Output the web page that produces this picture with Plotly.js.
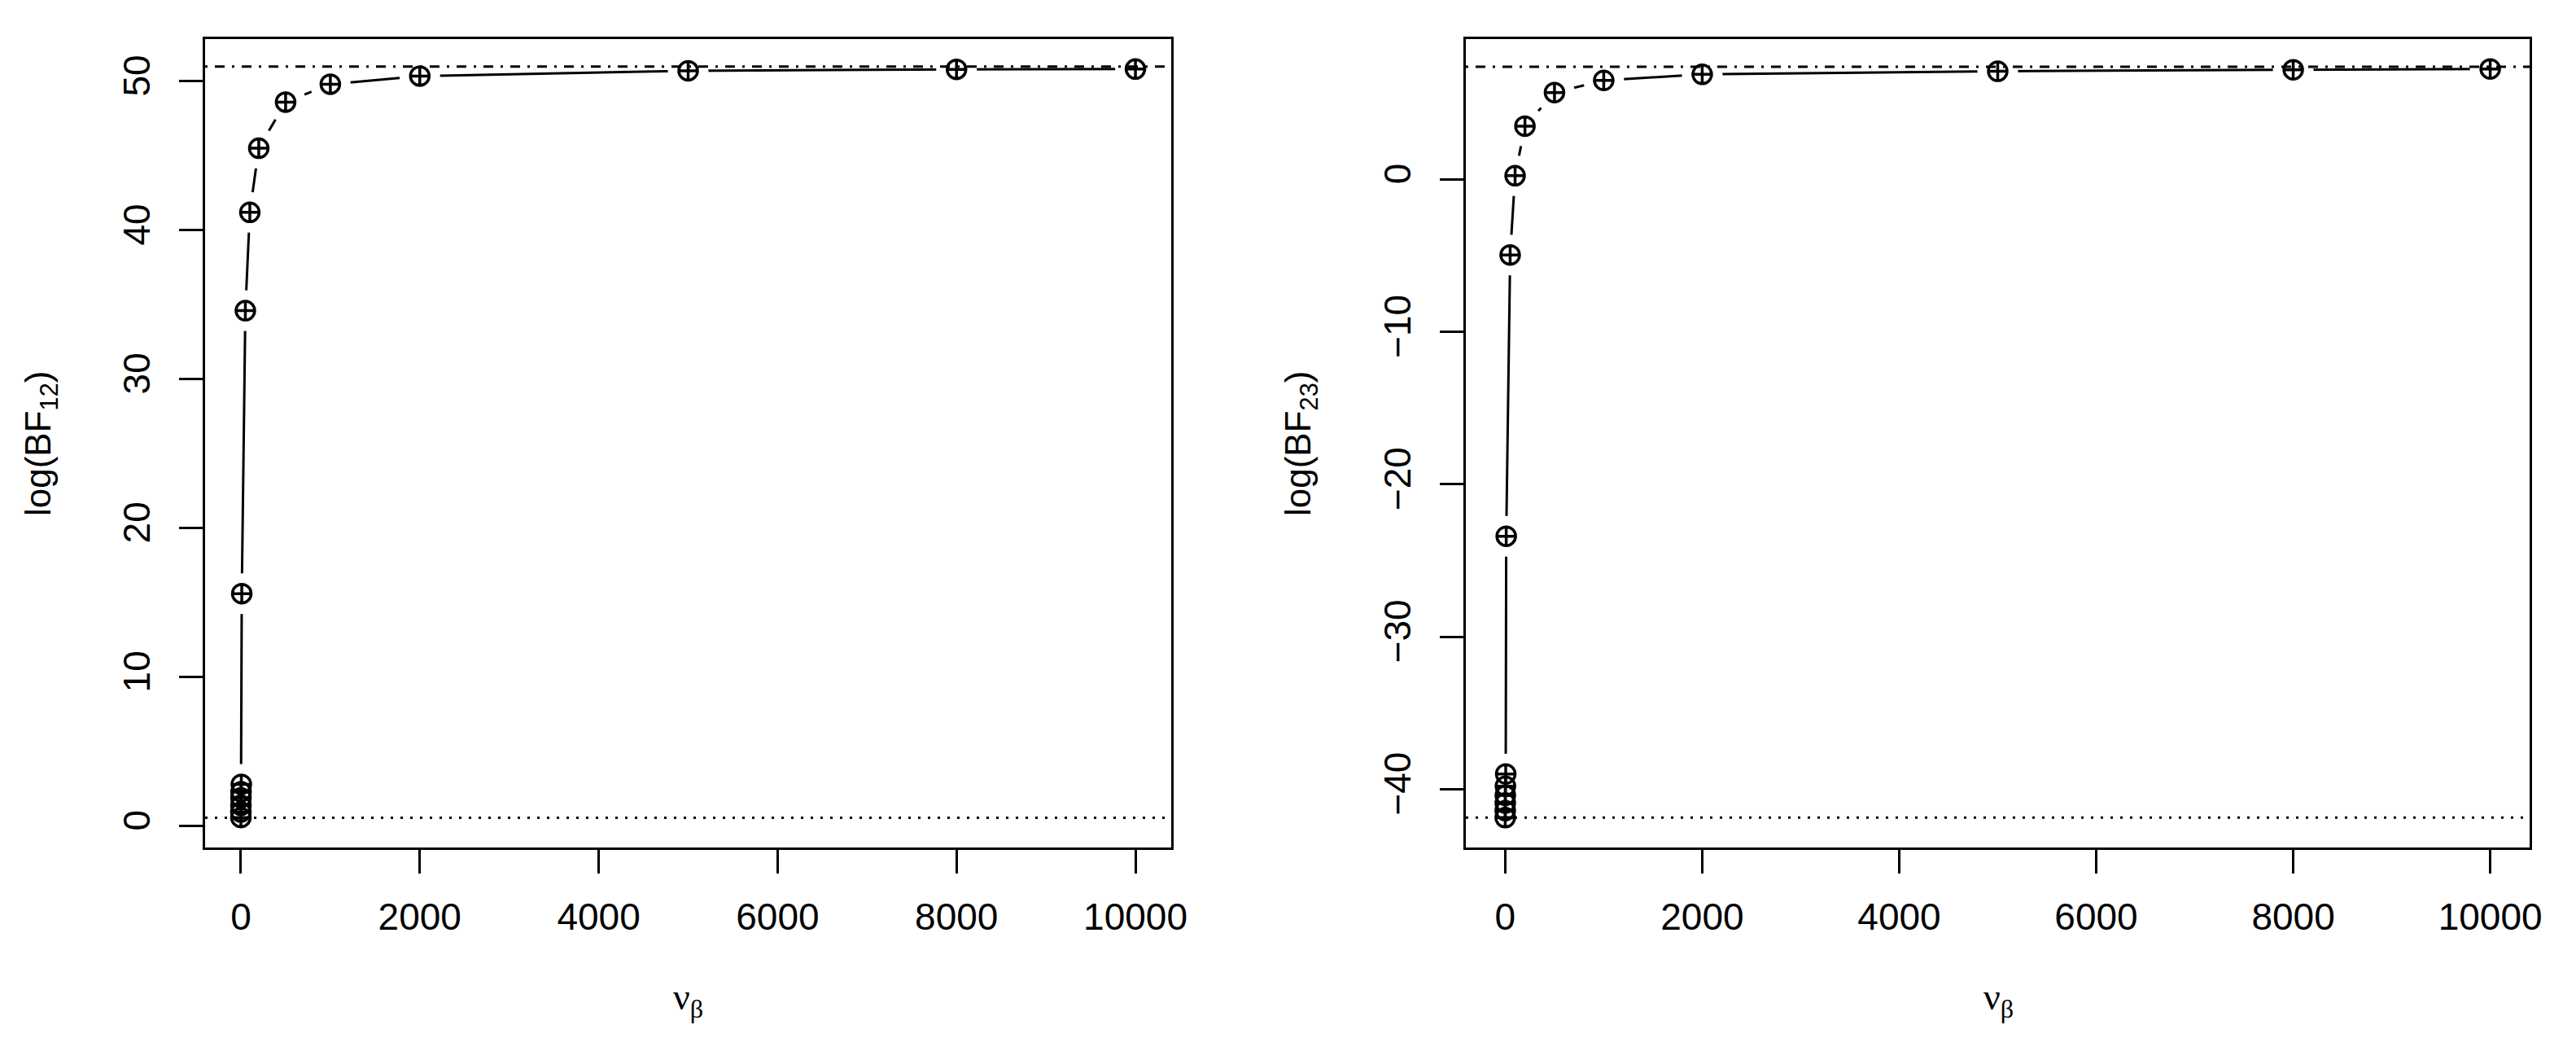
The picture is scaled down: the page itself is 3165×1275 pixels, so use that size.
<!DOCTYPE html>
<html>
<head>
<meta charset="utf-8">
<script src="https://cdn.plot.ly/plotly-3.0.1.min.js"></script>
<style>
html,body{margin:0;padding:0;background:#fff;}
#chart{width:3165px;height:1275px;}
</style>
</head>
<body>
<div id="chart"></div>
<script>
// ---- data ----
const nuBeta = [0.01, 0.1, 0.5, 1, 2, 5, 10, 50, 100, 200, 500, 1000, 2000, 5000, 8000, 10000];
const logBF12 = [0.57, 0.95, 1.4, 1.9, 2.3, 2.8, 15.6, 34.6, 41.2, 45.5, 48.6, 49.8, 50.35, 50.7, 50.8, 50.82];
const logBF23 = [-41.86, -41.4, -40.9, -40.4, -39.8, -39.0, -23.4, -4.95, 0.25, 3.5, 5.7, 6.5, 6.9, 7.1, 7.2, 7.25];

const upperRef12 = 50.98;   // dash-dot reference line, left panel
const lowerRef12 = 0.56;    // dotted reference line, left panel
const upperRef23 = 7.39;    // dash-dot reference line, right panel
const lowerRef23 = -41.86;  // dotted reference line, right panel

const xTickVals = [0, 2000, 4000, 6000, 8000, 10000];
const xTickText = ["0", "2000", "4000", "6000", "8000", "10000"];
const y1TickVals = [0, 10, 20, 30, 40, 50];
const y1TickText = ["0", "10", "20", "30", "40", "50"];
const y2TickVals = [-40, -30, -20, -10, 0];
const y2TickText = ["\u221240", "\u221230", "\u221220", "\u221210", "0"];

// ---- styling ----
const W = 3165, H = 1275;
const tickFont = {family: "Liberation Sans, Arial, sans-serif", size: 46, color: "#000"};
const yDom = [(H - 1041) / H, (H - 48) / H];

function traces(xa, ya, yv) {
  return [
    {x: nuBeta, y: yv, xaxis: xa, yaxis: ya, type: "scatter", mode: "lines",
     line: {color: "#000", width: 3}, hoverinfo: "skip", showlegend: false},
    {x: nuBeta, y: yv, xaxis: xa, yaxis: ya, type: "scatter", mode: "markers",
     marker: {symbol: "circle", size: 50, color: "#fff", line: {width: 0}},
     hoverinfo: "skip", showlegend: false},
    {x: nuBeta, y: yv, xaxis: xa, yaxis: ya, type: "scatter", mode: "markers",
     marker: {symbol: "circle-cross-open", size: 23, color: "#000", line: {color: "#000", width: 3.5}},
     showlegend: false}
  ];
}

function xAxis(dom, anchor) {
  return {domain: dom, anchor: anchor, range: [-400, 10400], tickmode: "array",
    tickvals: xTickVals, ticktext: xTickText, ticks: "outside", ticklen: 29, tickwidth: 3,
    tickcolor: "#000", showline: true, linewidth: 3, linecolor: "#000", mirror: true,
    showgrid: false, zeroline: false, tickfont: tickFont, ticklabelstandoff: 14};
}
function yAxis(range, tv, tt, anchor) {
  return {domain: yDom, anchor: anchor, range: range, tickmode: "array",
    tickvals: tv, ticktext: tt, ticks: "outside", ticklen: 29, tickwidth: 3,
    tickcolor: "#000", showline: true, linewidth: 3, linecolor: "#000", mirror: true,
    showgrid: false, zeroline: false, tickfont: tickFont, tickangle: -90, ticklabelstandoff: 18};
}

function hline(xref, yref, yv, dash) {
  return {type: "line", xref: xref + " domain", yref: yref, x0: 0, x1: 1, y0: yv, y1: yv,
    line: {color: "#000", width: 3, dash: dash}, layer: "above"};
}

const data = [].concat(traces("x", "y", logBF12), traces("x2", "y2", logBF23));

const layout = {
  width: W, height: H,
  margin: {l: 0, r: 0, t: 0, b: 0},
  paper_bgcolor: "#fff", plot_bgcolor: "#fff",
  showlegend: false,
  xaxis: xAxis([252 / W, 1439 / W], "y"),
  yaxis: yAxis([-1.44, 52.83], y1TickVals, y1TickText, "x"),
  xaxis2: xAxis([1801 / W, 3108 / W], "y2"),
  yaxis2: yAxis([-43.82, 9.21], y2TickVals, y2TickText, "x2"),
  shapes: [
    hline("x", "y", upperRef12, "3px,9px,12px,9px"),
    hline("x", "y", lowerRef12, "3px,9px"),
    hline("x2", "y2", upperRef23, "3px,9px,12px,9px"),
    hline("x2", "y2", lowerRef23, "3px,9px")
  ],
  annotations: [
    {text: "log(BF<sub>12</sub>)", xref: "paper", yref: "paper", x: 50 / W, y: (H - 545) / H,
     textangle: -90, showarrow: false, xanchor: "center", yanchor: "middle",
     font: {family: "Liberation Sans, Arial, sans-serif", size: 44, color: "#000"}},
    {text: "log(BF<sub>23</sub>)", xref: "paper", yref: "paper", x: 1598 / W, y: (H - 545) / H,
     textangle: -90, showarrow: false, xanchor: "center", yanchor: "middle",
     font: {family: "Liberation Sans, Arial, sans-serif", size: 44, color: "#000"}},
    {text: "\u03bd<sub>\u03b2</sub>", xref: "paper", yref: "paper", x: 845 / W, y: (H - 1228) / H,
     showarrow: false, xanchor: "center", yanchor: "middle",
     font: {family: "Liberation Serif, Times New Roman, serif", size: 46, color: "#000"}},
    {text: "\u03bd<sub>\u03b2</sub>", xref: "paper", yref: "paper", x: 2455 / W, y: (H - 1228) / H,
     showarrow: false, xanchor: "center", yanchor: "middle",
     font: {family: "Liberation Serif, Times New Roman, serif", size: 46, color: "#000"}}
  ]
};

Plotly.newPlot("chart", data, layout, {staticPlot: true, displayModeBar: false});
</script>
</body>
</html>
